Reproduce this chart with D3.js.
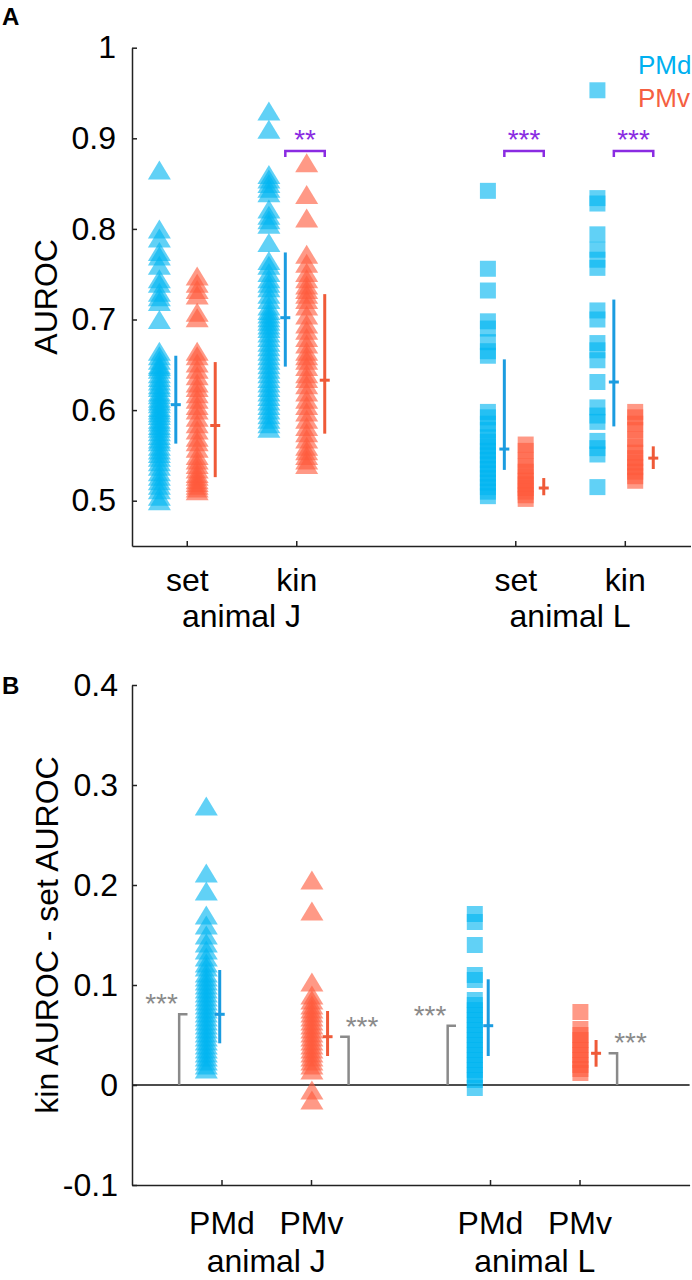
<!DOCTYPE html>
<html><head><meta charset="utf-8">
<script src="https://cdn.jsdelivr.net/npm/d3@7"></script>
<style>body{margin:0;background:#fff}svg{display:block}text{font-family:"Liberation Sans",Arial,Helvetica,sans-serif}</style>
</head><body>
<script>
// ---------- DATA ----------
const catA = [1, 2, 4, 5];
const catALabels = ["set", "kin", "set", "kin"];
const animalLabels = ["animal J", "animal L"];
const animalPosA = [1.5, 4.5];
const yTicksA = [0.5, 0.6, 0.7, 0.8, 0.9, 1];
const yTickLabelsA = ["0.5", "0.6", "0.7", "0.8", "0.9", "1"];

// Panel A: AUROC per neuron (J = triangles, L = squares)
const jSetPMd = [0.865,0.80,0.79,0.775,0.77,0.76,0.745,0.74,0.73,0.725,0.72,0.70,0.665,0.66,0.655,0.65,0.648,0.645,0.64,0.636,0.632,0.628,0.625,0.62,0.617,0.613,0.61,0.607,0.603,0.60,0.597,0.594,0.59,0.587,0.583,0.58,0.576,0.572,0.568,0.565,0.56,0.556,0.552,0.548,0.543,0.538,0.532,0.527,0.522,0.517,0.512,0.505,0.50];
const jSetPMv = [0.748,0.74,0.733,0.727,0.708,0.702,0.665,0.66,0.652,0.645,0.638,0.63,0.625,0.618,0.612,0.605,0.60,0.592,0.585,0.578,0.57,0.565,0.558,0.55,0.545,0.54,0.535,0.53,0.527,0.523,0.52,0.517,0.514,0.511];
const jKinPMd = [0.93,0.91,0.86,0.855,0.85,0.845,0.84,0.822,0.815,0.81,0.805,0.785,0.765,0.76,0.752,0.745,0.74,0.735,0.728,0.722,0.715,0.71,0.706,0.702,0.698,0.694,0.69,0.685,0.68,0.675,0.67,0.665,0.66,0.655,0.65,0.645,0.64,0.635,0.63,0.625,0.62,0.615,0.61,0.605,0.60,0.595,0.59,0.585,0.58];
const jKinPMv = [0.873,0.838,0.812,0.772,0.762,0.752,0.745,0.738,0.733,0.728,0.722,0.715,0.705,0.695,0.688,0.68,0.673,0.665,0.66,0.655,0.648,0.64,0.635,0.628,0.62,0.612,0.605,0.598,0.59,0.582,0.575,0.568,0.56,0.555,0.55,0.545,0.54];
const lSetPMd = [0.842,0.756,0.732,0.698,0.69,0.675,0.665,0.66,0.598,0.592,0.585,0.578,0.57,0.565,0.56,0.555,0.55,0.545,0.54,0.535,0.53,0.525,0.52,0.515,0.51,0.505];
const lSetPMv = [0.562,0.555,0.545,0.538,0.532,0.527,0.522,0.518,0.514,0.51,0.506,0.502];
const lKinPMd = [0.953,0.834,0.828,0.794,0.777,0.766,0.757,0.71,0.70,0.674,0.666,0.655,0.631,0.603,0.594,0.587,0.566,0.558,0.551,0.515];
const lKinPMv = [0.598,0.592,0.585,0.578,0.568,0.56,0.553,0.547,0.542,0.537,0.532,0.527,0.522];

// error bars [mean, low, high]
const errA_PMd = [[0.606,0.563,0.660],[0.702,0.648,0.774],[0.557,0.534,0.656],[0.631,0.582,0.722]];
const errA_PMv = [[0.583,0.526,0.653],[0.633,0.574,0.728],[0.514,0.506,0.525],[0.547,0.535,0.560]];
// significance between PMd and PMv (category, label, height)
const sigA = [{cat: 2, label: "**", y: 0.886}, {cat: 4, label: "***", y: 0.886}, {cat: 5, label: "***", y: 0.886}];

// Panel B: kin AUROC - set AUROC
const catB = [1, 2, 4, 5];
const catBLabels = ["PMd", "PMv", "PMd", "PMv"];
const animalPosB = [1.5, 4.5];
const yTicksB = [-0.1, 0, 0.1, 0.2, 0.3, 0.4];
const yTickLabelsB = ["-0.1", "0", "0.1", "0.2", "0.3", "0.4"];
const jDiffPMd = [0.279,0.212,0.194,0.17,0.16,0.15,0.142,0.135,0.128,0.122,0.118,0.112,0.108,0.104,0.1,0.096,0.092,0.088,0.084,0.08,0.076,0.072,0.068,0.064,0.06,0.056,0.052,0.048,0.044,0.04,0.036,0.032,0.028,0.024,0.02,0.016];
const jDiffPMv = [0.205,0.174,0.103,0.09,0.085,0.08,0.076,0.072,0.068,0.064,0.06,0.056,0.052,0.048,0.044,0.04,0.036,0.032,0.028,0.024,0.02,0.015,-0.005,-0.015];
const lDiffPMd = [0.171,0.163,0.14,0.11,0.105,0.085,0.08,0.075,0.07,0.065,0.06,0.055,0.05,0.045,0.04,0.035,0.03,0.025,0.02,0.015,0.01,0.005,-0.003];
const lDiffPMv = [0.073,0.056,0.05,0.045,0.04,0.035,0.03,0.025,0.02,0.016,0.012];
const errB = [[0.0707,0.0417,0.115],[0.0483,0.029,0.074],[0.0593,0.029,0.1057],[0.0317,0.0183,0.045]];
const sigBLabels = ["***", "***", "***", "***"];

// ---------- STYLE ----------
const W = 692, H = 1280;
const FONT = 32;
const cPMd = "rgb(0,180,240)", cPMv = "rgb(255,90,60)";
const cErrPMd = "#1b9ce0", cErrPMv = "#ef5a38";
const cSig = "#8a2be2", cGray = "#8a8a8a";
const axisColor = "#222";

const svg = d3.select("body").append("svg").attr("width", W).attr("height", H);

const triPath = "M0,-9.5L11.5,9.5L-11.5,9.5Z";
const sqPath = "M-8,-8H8V8H-8Z";

function drawMarkers(g, vals, x, y, shape, color) {
  g.append("g").selectAll("path").data(vals).join("path")
    .attr("d", shape)
    .attr("transform", d => `translate(${x},${y(d)})`)
    .attr("fill", color).attr("fill-opacity", 0.62);
}
function drawErr(g, e, x, y, color) {
  g.append("line").attr("x1", x).attr("x2", x).attr("y1", y(e[1])).attr("y2", y(e[2]))
    .attr("stroke", color).attr("stroke-width", 3);
  g.append("line").attr("x1", x - 5).attr("x2", x + 5).attr("y1", y(e[0])).attr("y2", y(e[0]))
    .attr("stroke", color).attr("stroke-width", 3);
}
function styleAxis(ax) {
  ax.selectAll("path.domain").attr("stroke", axisColor).attr("stroke-width", 1.5);
  ax.selectAll(".tick line").attr("stroke", axisColor).attr("stroke-width", 1.5);
  ax.selectAll("text").attr("font-size", FONT).attr("fill", "#000")
    .style("font-family", '"Liberation Sans",Arial,Helvetica,sans-serif');
}

// ================= PANEL A =================
const xA = d3.scaleLinear().domain([0.5, 5.6]).range([132, 690.5]);
const yA = d3.scaleLinear().domain([0.45, 1]).range([546, 47.7]);
const gA = svg.append("g");

const off = {dM: -0.25, dE: -0.10, vM: 0.095, vE: 0.26};
const dataA_PMd = [jSetPMd, jKinPMd, lSetPMd, lKinPMd];
const dataA_PMv = [jSetPMv, jKinPMv, lSetPMv, lKinPMv];
catA.forEach((c, i) => {
  const shape = i < 2 ? triPath : sqPath;
  drawMarkers(gA, dataA_PMd[i], xA(c + off.dM), yA, shape, cPMd);
  drawMarkers(gA, dataA_PMv[i], xA(c + off.vM), yA, shape, cPMv);
});
catA.forEach((c, i) => {
  drawErr(gA, errA_PMd[i], xA(c + off.dE), yA, cErrPMd);
  drawErr(gA, errA_PMv[i], xA(c + off.vE), yA, cErrPMv);
});
sigA.forEach(s => {
  const x1 = xA(s.cat + off.dE), x2 = xA(s.cat + off.vE), yy = yA(s.y);
  gA.append("path").attr("d", `M${x1},${yy + 6}V${yy}H${x2}V${yy + 6}`)
    .attr("fill", "none").attr("stroke", cSig).attr("stroke-width", 2.5);
  gA.append("text").attr("x", (x1 + x2) / 2).attr("y", yy - 2).attr("text-anchor", "middle")
    .attr("font-size", 28).attr("fill", cSig).text(s.label);
});

const axAy = gA.append("g").attr("transform", `translate(${xA(0.5)},0)`)
  .call(d3.axisLeft(yA).tickValues(yTicksA).tickFormat((d, i) => yTickLabelsA[i]).tickSize(-5).tickSizeOuter(0).tickPadding(16));
styleAxis(axAy);
const axAx = gA.append("g").attr("transform", `translate(0,${yA(0.45)})`)
  .call(d3.axisBottom(xA).tickValues(catA).tickFormat((d, i) => catALabels[i]).tickSize(-5).tickSizeOuter(0).tickPadding(22));
styleAxis(axAx);
animalPosA.forEach((p, i) => {
  gA.append("text").attr("x", xA(p)).attr("y", 627).attr("text-anchor", "middle")
    .attr("font-size", FONT).text(animalLabels[i]);
});
gA.append("text").attr("transform", `translate(57,${(yA(1) + yA(0.45)) / 2}) rotate(-90)`)
  .attr("text-anchor", "middle").attr("font-size", 32).text("AUROC");
gA.append("text").attr("x", 2).attr("y", 25).attr("font-size", 24).attr("font-weight", "bold").text("A");
// legend
gA.append("text").attr("x", 638).attr("y", 74).attr("font-size", 26).attr("fill", "rgb(0,176,240)").text("PMd");
gA.append("text").attr("x", 638).attr("y", 107).attr("font-size", 26).attr("fill", "rgb(245,95,65)").text("PMv");

// ================= PANEL B =================
const xB = d3.scaleLinear().domain([0, 6.23]).range([132, 689.6]);
const yB = d3.scaleLinear().domain([-0.1, 0.4]).range([1185, 685]);
const gB = svg.append("g");

gB.append("line").attr("x1", xB(0)).attr("x2", xB(6.23)).attr("y1", yB(0)).attr("y2", yB(0))
  .attr("stroke", "#111").attr("stroke-width", 1.5);

const dataB = [jDiffPMd, jDiffPMv, lDiffPMd, lDiffPMv];
const offB = [{m: -0.17, e: -0.02}, {m: 0.01, e: 0.185}, {m: -0.17, e: -0.02}, {m: 0.01, e: 0.185}];
const colB = [cPMd, cPMv, cPMd, cPMv];
const colErrB = [cErrPMd, cErrPMv, cErrPMd, cErrPMv];
catB.forEach((c, i) => {
  drawMarkers(gB, dataB[i], xB(c + offB[i].m), yB, i < 2 ? triPath : sqPath, colB[i]);
});
catB.forEach((c, i) => {
  drawErr(gB, errB[i], xB(c + offB[i].e), yB, colErrB[i]);
});
// significance vs zero
catB.forEach((c, i) => {
  const isPMd = i % 2 === 0;
  const xv = xB(c + (isPMd ? -0.473 : 0.42));
  const xh = xB(c + (isPMd ? -0.38 : 0.325));
  const yy = yB(errB[i][0]);
  gB.append("path").attr("d", `M${xv},${yB(0)}V${yy}H${xh}`)
    .attr("fill", "none").attr("stroke", cGray).attr("stroke-width", 2.5);
  gB.append("text").attr("x", xB(c + (isPMd ? -0.67 : 0.57))).attr("y", yy - 1)
    .attr("text-anchor", "middle").attr("font-size", 28).attr("fill", cGray).text(sigBLabels[i]);
});

const axBy = gB.append("g").attr("transform", `translate(${xB(0)},0)`)
  .call(d3.axisLeft(yB).tickValues(yTicksB).tickFormat((d, i) => yTickLabelsB[i]).tickSize(-5).tickSizeOuter(0).tickPadding(14));
styleAxis(axBy);
const axBx = gB.append("g").attr("transform", `translate(0,${yB(-0.1)})`)
  .call(d3.axisBottom(xB).tickValues(catB).tickFormat((d, i) => catBLabels[i]).tickSize(-5).tickSizeOuter(0).tickPadding(26));
styleAxis(axBx);
animalPosB.forEach((p, i) => {
  gB.append("text").attr("x", xB(p)).attr("y", 1272).attr("text-anchor", "middle")
    .attr("font-size", FONT).text(animalLabels[i]);
});
gB.append("text").attr("transform", `translate(58,${(yB(0.4) + yB(-0.1)) / 2}) rotate(-90)`)
  .attr("text-anchor", "middle").attr("font-size", 32).text("kin AUROC - set AUROC");
gB.append("text").attr("x", 2).attr("y", 694).attr("font-size", 24).attr("font-weight", "bold").text("B");
</script>
</body></html>
